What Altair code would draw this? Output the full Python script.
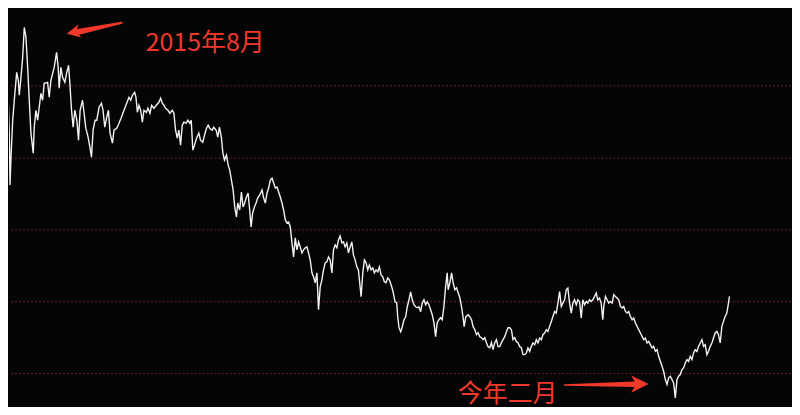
import altair as alt
import pandas as pd

# 走势线：横向为交易日位置，纵向为画面读数（数值越大位置越低）
pos = [
    0, 1.7, 3, 4.3, 5.3, 6.7, 8.3, 9, 10, 11.7, 13.3, 15.7, 17.3, 18.3, 20, 21.7, 23.3, 25,
    26.7, 28.3, 30, 32.3, 33.3, 35, 36.7, 38.3, 40, 41.7, 43.3, 46.7, 48.3, 50, 53.3, 55.7,
    57.3, 58.3, 60, 61.7, 64, 65.7, 67.7, 69, 70.7, 72.3, 74, 76, 77.7, 79.3, 81.7, 83.3, 85,
    87.3, 89.3, 90.7, 92.3, 94.3, 96, 98.3, 100.7, 102.3, 104, 106, 107.7, 109.3, 111.7,
    113.3, 116, 118.3, 120.7, 123.3, 126, 128.3,
    130, 131.7, 134, 135.3, 136.7, 138.3, 140, 141.7, 143.3, 145.7, 147.3, 149.3, 151, 153.3,
    155.7, 158.3, 160, 161.7, 163.3, 165, 167.3, 169.3, 171.7, 173.3, 175, 176.7, 178.3, 180,
    181.7, 183.3, 185.7, 187.3, 189.3, 190.7, 192.3, 194, 196, 198.3, 200, 202.3, 204, 206,
    207.7, 209.3, 211.7, 213.3, 215.7, 217.3, 219, 221, 222.3, 224, 226, 227.7, 229.3, 231,
    232.7, 234.3, 236, 237.3, 239.3, 241, 242.7, 244.3, 246, 247.7, 249.3, 250.7, 252.3, 254,
    255.7, 257.3, 259.3,
    261.7, 263.3, 265, 266.7, 268.3, 270, 271.7, 273.3, 275, 276.7, 278.3, 280, 281.7, 283.3,
    285, 286.7, 288.3, 290, 291.7, 293.3, 295, 296.7, 298.3, 300, 301.7, 303.3, 305, 306.7,
    308.3, 310, 311.7, 313.3, 315, 316.7, 318.3, 320, 321.7, 323.3, 325, 326.7, 328.3, 330,
    331.7, 333.3, 335, 336.7, 338.3, 340, 341.7, 343.3, 345, 346.7, 348.3, 350, 351.7, 353.3,
    355, 356.7, 358.3, 360, 361, 362.7, 364.3, 366, 367.7, 369.3, 371, 372.7, 374.3, 376,
    377.7, 379.3, 381, 382.7, 384.3, 386, 387.7, 389.3,
    391.7, 393.3, 395, 396.7, 397.7, 399, 400.7, 402.3, 404, 405.7, 407.3, 409, 410.7, 412.3,
    414, 415.7, 417.3, 419, 420.7, 422.3, 424, 425.7, 427.3, 429, 430.7, 432.3, 434, 435.7,
    437.3, 439, 440.7, 442.3, 444, 445.7, 447.3, 448.3, 450, 451.7, 453.3, 455, 456.7, 458.3,
    460, 461.7, 463.3, 464.3, 466, 468.3, 470, 471.7, 473.3, 475, 476.7, 478.3, 480, 481.7,
    483.3, 485, 486.7, 488.3, 490, 491.7, 493.3, 495, 496.7, 498.3, 500, 501.7, 503.3, 505,
    506.7, 508.3, 510, 511.7, 513.3, 515, 516.7, 518.3, 520, 521.7, 523.3,
    525, 526.7, 528.3, 530, 531.7, 533.3, 535, 536.7, 538.3, 540, 541.7, 543.3, 545, 546.7,
    548.3, 550, 551.7, 553.3, 555, 556.7, 558.3, 560, 561.7, 563.3, 565, 566.7, 568.3, 570,
    571.7, 573.3, 575, 576.7, 578.3, 580, 581.7, 583.3, 585, 586.7, 588.3, 590, 591.7, 593.3,
    595, 596.7, 598.3, 600, 601.7, 603.3, 604.3, 606, 607.7, 609.3, 611, 612.7, 614.3, 616,
    617.7, 619.3, 621, 622.7, 624.3, 626, 627.7, 629.3, 631, 632.7, 634.3, 636, 637.7, 639.3,
    641, 642.7, 644.3, 646, 647.7, 649.3, 651, 652.7, 654.3, 656, 657.7, 659.3, 661, 662.7,
    664.3, 666, 667.7, 669.3, 671, 672.7, 674.3, 676, 677.7, 679.3, 681, 682.7, 684.3, 686,
    687.7, 689.3, 691, 692.7, 694.3, 696, 697.7, 699.3, 701, 702.7, 704.3, 706, 707.7, 709.3,
    711, 712.7, 714.3, 716, 717.7, 719.3, 721, 722.7, 724.3, 726, 727.7, 729.3, 730.3,
]
level = [
    53, 25, 23, 33, 50, 83, 133, 185, 157, 120, 100, 72, 80, 95, 77, 57, 27, 37,
    67, 100, 133, 153, 127, 110, 120, 107, 93, 100, 83, 82, 97, 80, 67, 52,
    67, 88, 67, 77, 82, 73, 65, 83, 110, 127, 110, 120, 140, 110, 100, 113, 128,
    137, 148, 157, 130, 120, 120, 107, 103, 110, 127, 117, 110, 133, 143,
    130, 128, 123, 117, 110, 103, 97,
    100, 95, 92, 97, 112, 105, 110, 122, 110, 112, 108, 113, 105, 108,
    105, 102, 98, 103, 105, 108, 110, 113, 110, 113, 130, 138, 130, 145,
    125, 122, 123, 120, 123, 120, 150, 145, 138, 133, 140, 142, 135, 128,
    125, 128, 130, 127, 130, 137, 127, 138, 152, 160, 155, 165, 170, 180,
    190, 207, 217, 203, 210, 192, 207, 203, 197, 193, 210, 227, 213, 207,
    203, 198, 195,
    190, 198, 203, 193, 188, 180, 178, 183, 188, 187, 192, 197, 203, 210,
    220, 223, 222, 227, 243, 257, 238, 250, 242, 247, 253, 250, 248, 247,
    253, 260, 273, 277, 283, 273, 310, 287, 280, 270, 263, 262, 257, 260,
    273, 250, 245, 248, 240, 236, 243, 242, 247, 243, 253, 247, 242, 255,
    260, 267, 270, 287, 297, 273, 260, 263, 270, 265, 270, 268, 273, 270,
    272, 267, 275, 277, 282, 283, 278, 280,
    287, 293, 302, 303, 317, 328, 332, 327, 320, 317, 307, 300, 292, 300,
    305, 307, 308, 307, 312, 303, 300, 305, 302, 305, 310, 315, 323, 337,
    323, 320, 318, 320, 307, 287, 273, 290, 283, 273, 283, 290, 288, 293,
    298, 307, 318, 327, 317, 315, 317, 320, 327, 330, 335, 333, 337, 338,
    340, 338, 343, 347, 348, 343, 350, 343, 340, 347, 347, 343, 340, 337,
    332, 328, 328, 330, 340, 338, 342, 343, 347, 348, 355,
    355, 353.3, 348.3, 351.7, 346.7, 343.3, 345, 340, 343.3, 338.3, 340, 335, 333.3, 330,
    331.7, 326.7, 321.7, 316.7, 311.7, 313.3, 303.3, 291.7, 306.7, 303.3, 300, 290, 288.3, 303.3,
    313.3, 303.3, 300, 305, 300, 301.7, 318.3, 300, 305, 301.7, 303.3, 300, 301.7, 300,
    296.7, 293.3, 300, 298.3, 303.3, 320, 306.7, 296.7, 300, 303.3, 301.7, 303.3, 295, 296.7,
    298.3, 300, 306.7, 308.3, 306.7, 311.7, 313.3, 311.7, 316.7, 320, 318.3, 323.3, 326.7, 330,
    333.3, 336.7, 340, 338.3, 343.3, 341.7, 345, 348.3, 346.7, 351.7, 350, 356.7, 361.7, 366.7,
    371.7, 380, 385, 378.3, 376.7, 380, 383.3, 398.3, 380, 376.7, 375, 370, 368.3, 363.3,
    360, 361.7, 356.7, 360, 353.3, 350, 351.7, 346.7, 343.3, 340, 346.7, 345, 355, 351.7,
    346.7, 343.3, 338.3, 333.3, 331.7, 335, 343.3, 326.7, 321.7, 316.7, 313.3, 303.3, 296.7,
]

grid_levels = [85.5, 158, 230, 302, 374]

labels = ["2015年8月", "今年二月"]
label_pos = [145, 458]
label_level = [51, 402]

# 箭头：箭杆（由细到粗）和箭头
shaft_id = ["a", "a", "b", "b"]
shaft_pos = [121, 77, 565, 635]
shaft_level = [22.3, 31.5, 385.5, 384.7]
shaft_width = [2, 6, 1.5, 5.5]

head_pos = [72.5, 640.5]
head_level = [31.8, 384.5]
head_angle = [168, 0]
head_size = [180, 300]

RED = "#f2382a"
x_scale = alt.Scale(domain=[8, 792])
y_scale = alt.Scale(domain=[407, 8])


def xy(df_x="x", df_y="y"):
    return dict(
        x=alt.X(f"{df_x}:Q", scale=x_scale, axis=None),
        y=alt.Y(f"{df_y}:Q", scale=y_scale, axis=None),
    )


series = pd.DataFrame({"x": pos, "y": level, "i": range(len(pos))})
grid = pd.DataFrame({"y": grid_levels})
text = pd.DataFrame({"x": label_pos, "y": label_level, "t": labels})
shafts = pd.DataFrame({"x": shaft_pos, "y": shaft_level, "w": shaft_width, "k": shaft_id})
heads = pd.DataFrame({"x": head_pos, "y": head_level, "a": head_angle, "s": head_size})

grid_layer = alt.Chart(grid).mark_rule(
    color="#7a1f1f", strokeWidth=1, strokeDash=[2, 2]
).encode(y=alt.Y("y:Q", scale=y_scale, axis=None))

line_layer = alt.Chart(series).mark_line(
    color="#f2f2f2", strokeWidth=1.4, clip=True
).encode(**xy(), order="i:Q")

shaft_layer = alt.Chart(shafts).mark_trail(color=RED).encode(
    **xy(), size=alt.Size("w:Q", scale=None, legend=None), detail="k:N"
)

head_layer = alt.Chart(heads).mark_point(
    shape="M-1,-1 L1,0 L-1,1 L-0.45,0 Z", filled=True, color=RED, opacity=1
).encode(
    **xy(),
    angle=alt.Angle("a:Q", scale=None),
    size=alt.Size("s:Q", scale=None, legend=None),
)

text_layer = alt.Chart(text).mark_text(
    align="left", baseline="alphabetic", fontSize=25, color=RED,
    font="Noto Sans CJK SC",
).encode(**xy(), text="t:N")

chart = alt.layer(
    grid_layer, line_layer, shaft_layer, head_layer, text_layer
).properties(
    width=784, height=399, padding=0, background="#050505"
).configure_view(stroke=None)

chart.save("out.html", embed_options={"renderer": "svg", "actions": False})
